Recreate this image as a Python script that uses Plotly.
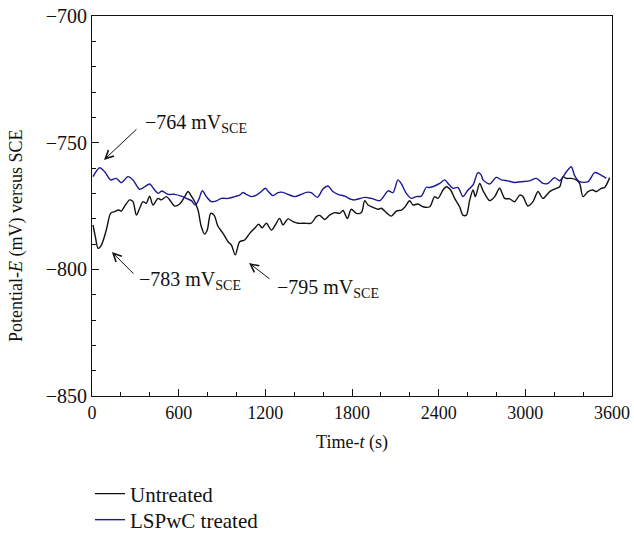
import plotly.graph_objects as go

# ---- data ----
untreated_t = [7, 23, 42, 65, 99, 129, 157, 185, 203, 231, 261, 284, 307, 330, 353, 376, 399, 422, 457, 480,
               515, 538, 572, 607, 642, 665, 688, 711, 734, 757, 780, 798, 822, 845, 872, 907, 942, 965, 992, 1022,
               1057, 1092, 1126, 1154, 1177, 1207, 1242, 1269, 1299, 1322, 1357, 1392, 1426, 1472, 1518, 1553, 1576,
               1611, 1645, 1680, 1715, 1738, 1768, 1795, 1830, 1865, 1888, 1911, 1945, 1980, 2003, 2038, 2072, 2107,
               2142, 2165, 2199, 2222, 2257, 2292, 2338, 2372, 2395, 2430, 2453, 2483, 2511, 2545, 2568, 2592, 2615,
               2638, 2654, 2684, 2707, 2753, 2788, 2822, 2857, 2892, 2926, 2961, 2984, 3018, 3053, 3088, 3122, 3169,
               3215, 3238, 3261, 3284, 3318, 3353, 3376, 3399, 3434, 3468, 3491, 3526, 3549, 3584]
untreated_E = [-782.5, -787.1, -791.7, -790.4, -784.5, -777.9, -777.2, -776.6, -777.0, -774.6, -772.6, -773.3,
               -778.6, -775.9, -773.3, -773.9, -771.1, -774.6, -772.0, -772.6, -771.3, -772.6, -775.0, -774.2,
               -771.3, -769.3, -771.1, -773.3, -776.6, -783.2, -786.1, -784.5, -777.9, -778.6, -783.0, -785.8,
               -789.1, -790.4, -794.3, -789.1, -788.4, -785.8, -783.8, -782.2, -783.6, -781.8, -784.5, -782.5,
               -779.9, -782.5, -780.1, -781.2, -781.8, -781.8, -781.8, -779.2, -778.7, -780.3, -778.6, -777.6,
               -777.9, -776.8, -779.9, -776.3, -777.9, -777.6, -772.9, -774.6, -775.5, -776.3, -775.9, -777.6,
               -779.0, -777.0, -776.6, -775.5, -772.9, -774.6, -774.2, -775.3, -775.3, -771.3, -772.0, -768.7,
               -767.4, -768.7, -772.0, -775.3, -778.6, -778.6, -772.6, -768.7, -771.3, -766.1, -768.9, -772.9,
               -771.3, -768.0, -772.0, -772.2, -773.3, -770.7, -771.3, -775.0, -773.3, -769.3, -772.0, -769.3,
               -768.0, -767.4, -763.4, -764.1, -764.1, -764.7, -766.1, -771.3, -769.3, -768.7, -769.3, -768.0,
               -767.7, -763.8]

treated_t = [7, 53, 88, 129, 168, 203, 249, 284, 330, 365, 399, 434, 457, 485, 526, 572, 618, 653, 688, 715,
             738, 764, 792, 826, 861, 895, 942, 988, 1022, 1045, 1068, 1103, 1138, 1172, 1200, 1218, 1253, 1288,
             1322, 1357, 1403, 1449, 1484, 1518, 1560, 1599, 1634, 1668, 1703, 1749, 1795, 1818, 1888, 1934, 1992,
             2026, 2049, 2084, 2118, 2142, 2176, 2211, 2245, 2280, 2315, 2338, 2372, 2407, 2442, 2465, 2499, 2534,
             2568, 2603, 2638, 2672, 2695, 2707, 2753, 2799, 2834, 2880, 2926, 2972, 3030, 3076, 3122, 3157, 3203,
             3238, 3284, 3318, 3342, 3376, 3434, 3480, 3515, 3561]
treated_E = [-763.4, -759.9, -761.5, -764.7, -764.1, -765.8, -763.4, -764.7, -768.4, -767.4, -766.3, -768.7,
             -770.0, -769.1, -770.4, -770.4, -771.1, -772.0, -772.9, -774.6, -772.6, -769.0, -771.3, -773.3,
             -773.0, -772.0, -772.0, -771.3, -770.7, -769.7, -770.4, -771.3, -770.7, -769.3, -768.0, -769.1,
             -770.9, -769.7, -769.6, -770.4, -771.3, -770.4, -769.6, -769.7, -771.6, -768.3, -767.1, -769.3,
             -770.4, -771.1, -772.4, -772.6, -771.6, -772.0, -772.9, -770.7, -769.0, -769.7, -764.7, -766.3,
             -770.0, -772.0, -771.3, -771.1, -767.6, -767.7, -767.1, -766.1, -764.7, -766.1, -768.0, -767.7,
             -771.3, -768.7, -766.7, -761.8, -762.8, -764.7, -766.3, -763.7, -764.7, -765.1, -765.7, -765.4,
             -765.1, -764.1, -766.1, -766.1, -763.8, -765.0, -761.5, -759.5, -763.1, -765.4, -765.4, -761.8,
             -762.5, -764.1]

series_names = ["Untreated", "LSPwC treated"]
x_ticks = [0, 600, 1200, 1800, 2400, 3000, 3600]
y_ticks = [-850, -800, -750, -700]

# annotation labels: (label, head_t, head_E, tail dx px, tail dy px, text_t, text_E)
notes = [
    ("\u2212764 mV<sub>SCE</sub>", 83, -756.8, 34, -32, 353, -742.6),
    ("\u2212783 mV<sub>SCE</sub>", 138, -793.2, 23, 23, 312, -804.6),
    ("\u2212795 mV<sub>SCE</sub>", 1087, -797.5, 22, 17, 1267, -807.4),
]

FONT = "Liberation Serif, Times New Roman, serif"
INK = "#111111"

# layout geometry (pixels)
W, H = 634, 535
L, R, T, B = 92, 22, 16, 139
PW, PH = W - L - R, H - T - B

fig = go.Figure()
fig.add_trace(go.Scatter(x=untreated_t, y=untreated_E, mode="lines", name=series_names[0], legend="legend",
                         line=dict(color=INK, width=1.4, shape="spline", smoothing=0.8)))
fig.add_trace(go.Scatter(x=treated_t, y=treated_E, mode="lines", name=series_names[1], legend="legend2",
                         line=dict(color="#1a1a96", width=1.4, shape="spline", smoothing=0.8)))

for label, hx, hy, dx, dy, tx, ty in notes:
    fig.add_annotation(x=hx, y=hy, xref="x", yref="y", text="", showarrow=True,
                       ax=dx, ay=dy, axref="pixel", ayref="pixel",
                       arrowhead=5, arrowsize=1.6, arrowwidth=1, arrowcolor=INK, standoff=0)
    fig.add_annotation(x=tx, y=ty, xref="x", yref="y", text=label, showarrow=False,
                       xanchor="left", yanchor="middle",
                       font=dict(family=FONT, size=20, color=INK))

# y-axis title (as rotated annotation to match its vertical placement)
fig.add_annotation(text="Potential-<i>E</i> (mV) versus SCE", textangle=-90, showarrow=False,
                   xref="paper", yref="paper", x=(16 - L) / PW, y=(T + PH - 236) / PH,
                   xanchor="center", yanchor="middle",
                   font=dict(family=FONT, size=18, color=INK))

axis_common = dict(showline=True, linecolor=INK, linewidth=1, mirror=True,
                   ticks="inside", ticklen=7, tickwidth=1, tickcolor=INK,
                   showgrid=False, zeroline=False)

fig.update_xaxes(range=[0, 3600], tickvals=x_ticks, ticktext=[str(v) for v in x_ticks],
                 tickfont=dict(family=FONT, size=18, color=INK),
                 minor=dict(dtick=200, ticks="inside", ticklen=4, tickcolor=INK, showgrid=False),
                 title=dict(text="Time-<i>t</i> (s)", font=dict(family=FONT, size=18, color=INK), standoff=13),
                 **axis_common)
fig.update_yaxes(range=[-850, -700], tickvals=y_ticks,
                 tickfont=dict(family=FONT, size=20, color=INK),
                 minor=dict(dtick=10, ticks="inside", ticklen=4, tickcolor=INK, showgrid=False),
                 **axis_common)

leg_common = dict(xanchor="left", yanchor="middle", orientation="v",
                  font=dict(family=FONT, size=21, color=INK),
                  bgcolor="rgba(0,0,0,0)", itemwidth=30)

fig.update_layout(
    width=W, height=H,
    margin=dict(l=L, r=R, t=T, b=B, autoexpand=False),
    paper_bgcolor="white", plot_bgcolor="white",
    font=dict(family=FONT, size=18, color=INK),
    showlegend=True,
    legend=dict(x=(90 - L) / PW, y=(T + PH - 494) / PH, **leg_common),
    legend2=dict(x=(90 - L) / PW, y=(T + PH - 520) / PH, **leg_common),
)

fig.write_html("out.html", config={"displayModeBar": False},
               post_script="document.body.style.margin='0px';")
